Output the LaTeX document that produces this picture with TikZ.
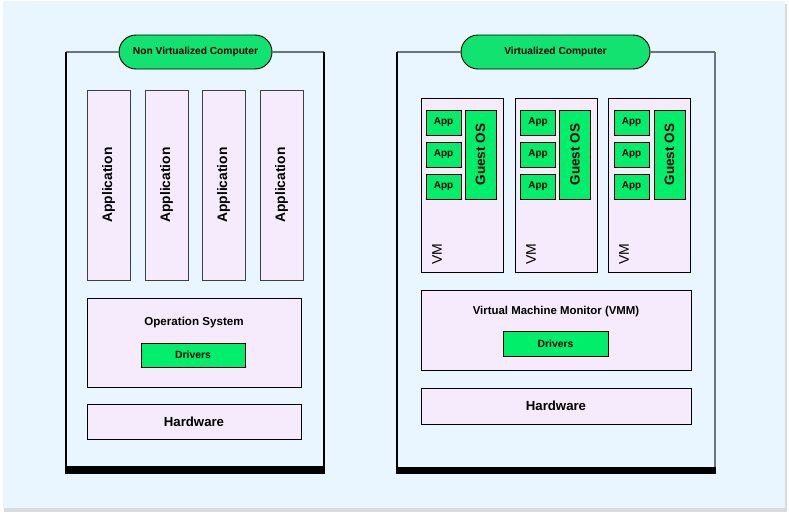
\documentclass[tikz,border=0pt]{standalone}
\usepackage{fontspec}
\setmainfont{Liberation Sans}
\usetikzlibrary{shapes.misc}
\definecolor{bgblue}{HTML}{EAF6FF}
\definecolor{pinkbox}{HTML}{F6EAFD}
\definecolor{greenbox}{HTML}{00EE6A}
\definecolor{greenpill}{HTML}{12E26F}
\definecolor{frameg}{HTML}{6B7579}
\definecolor{shadowg}{HTML}{D6DCE0}
\tikzset{
  pbox/.style={draw=black, fill=pinkbox, line width=0.9pt, inner sep=0pt},
  appcol/.style={pbox, draw=black!75, minimum width=43pt, minimum height=190pt},
  gbox/.style={draw=black, fill=greenbox, line width=0.9pt, inner sep=0pt},
  pill/.style={draw=black, fill=greenpill, line width=0.9pt, rounded rectangle, minimum height=34pt, inner sep=0pt, font=\bfseries\fontsize{10.2}{12}\selectfont},
  vmbox/.style={pbox, minimum width=82pt, minimum height=174pt},
  appsm/.style={gbox, minimum width=35pt, minimum height=25pt, font=\bfseries\fontsize{10}{12}\selectfont},
  guest/.style={gbox, minimum width=31pt, minimum height=89pt, font=\bfseries\fontsize{13.5}{15}\selectfont},
  vmlab/.style={rotate=90, font=\fontsize{14}{16}\selectfont, inner sep=0pt},
  frameline/.style={draw=frameg, line width=1.6pt},
  sideline/.style={draw=black, line width=1.2pt},
}
\begin{document}
\begin{tikzpicture}[x=1pt,y=-1pt]
\useasboundingbox (0,0) rectangle (789,514);
\fill[white] (0,0) rectangle (789,514);
\fill[shadowg] (4,4) rectangle (787,512);
\fill[bgblue] (3,1) rectangle (785,508);

% ---------- Left computer ----------
\node[pill, minimum width=153pt] (p1) at (195.5,52) {Non Virtualized Computer};
\draw[frameline] (p1.west) -- (66,52);
\draw[frameline] (p1.east) -- (324,52);
\draw[sideline] (66,52) -- (66,470);
\draw[sideline] (324,52) -- (324,470);
\fill[black] (65.4,466) rectangle (324.6,474);

\foreach \x/\n in {108.5/a1,166.5/a2,223.5/a3,281.5/a4}{
  \node[appcol] (\n) at (\x,185) {};
  \node[rotate=90, font=\bfseries\fontsize{13.8}{15}\selectfont] (\n t) at (\n) {Application};
}
\node[pbox, minimum width=214pt, minimum height=89pt] (os) at (194,342.5) {};
\node[font=\bfseries\fontsize{11.6}{13}\selectfont] (ost) at (194,322.5) {Operation System};
\node[gbox, minimum width=104pt, minimum height=24pt, font=\bfseries\fontsize{10.4}{12}\selectfont] (dr1) at (193,355) {Drivers};
\node[pbox, minimum width=214pt, minimum height=35pt, font=\bfseries\fontsize{13.2}{15}\selectfont] (hw1) at (194,421.5) {Hardware};

% ---------- Right computer ----------
\node[pill, minimum width=189pt] (p2) at (555.5,52) {Virtualized Computer};
\draw[frameline] (p2.west) -- (397,52);
\draw[frameline] (p2.east) -- (715,52);
\draw[sideline] (397,52) -- (397,470);
\draw[frameline] (715,52) -- (715,470);
\fill[black] (396.4,467) rectangle (715.8,474);

\foreach \c/\ax/\gx/\n in {462/443.5/480.5/v1, 556/538/575/v2, 649/631.5/669.5/v3}{
  \node[vmbox] (\n) at (\c,185) {};
  \node[appsm] (\n a1) at (\ax,122.5) {App};
  \node[appsm] (\n a2) at (\ax,154.5) {App};
  \node[appsm] (\n a3) at (\ax,186.5) {App};
  \node[guest] (\n g) at (\gx,154.5) {};
  \node[rotate=90, font=\bfseries\fontsize{13.5}{15}\selectfont] (\n gt) at (\n g) {Guest OS};
  \node[vmlab] (\n l) at (\c-25,254) {VM};
}
\node[pbox, minimum width=270pt, minimum height=80pt] (vmm) at (556,330) {};
\node[font=\bfseries\fontsize{11.4}{13}\selectfont] (vmmt) at (556,311.5) {Virtual Machine Monitor (VMM)};
\node[gbox, minimum width=105pt, minimum height=25pt, font=\bfseries\fontsize{10.4}{12}\selectfont] (dr2) at (555.5,343.5) {Drivers};
\node[pbox, minimum width=270pt, minimum height=36pt, font=\bfseries\fontsize{13.2}{15}\selectfont] (hw2) at (556,406) {Hardware};
\end{tikzpicture}
\end{document}
